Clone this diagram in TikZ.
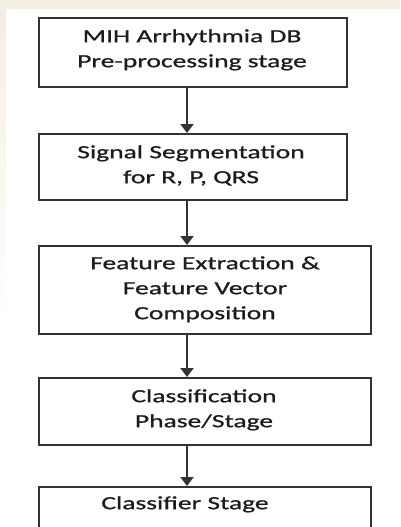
\documentclass[tikz,border=0pt]{standalone}
\usepackage{fontspec}
\setmainfont{Carlito}[FakeStretch=1.48, FakeBold=0.8]
\usetikzlibrary{arrows.meta}
\definecolor{paper}{HTML}{F4EDE3}
\definecolor{edge}{HTML}{333333}
\definecolor{ink}{HTML}{1C1C1C}
\tikzset{
  stage/.style={draw=edge, line width=2pt, rectangle, inner sep=0pt},
  caption/.style={anchor=north, inner sep=0pt, align=center, text=ink,
    font=\fontsize{18.6}{25}\selectfont},
  flow/.style={draw=edge, line width=2pt,
    -{Triangle[width=13pt,length=9pt]}, shorten >=0pt},
}
\begin{document}
\begin{tikzpicture}[x=1pt, y=-1pt]
  \useasboundingbox (0,0) rectangle (400,527);
  \begin{scope}
    \clip (0,0) rectangle (400,527);
    % page backdrop
    \fill[paper] (0,0) rectangle (400,9);
    \shade[top color=paper, bottom color=white] (0,9) rectangle (6,320);
    \fill[white] (6,9) rectangle (400,527);

    % stage boxes
    \node[stage, minimum width=308pt, minimum height=69pt] (b1) at (193,52.5) {};
    \node[stage, minimum width=308pt, minimum height=66pt] (b2) at (193,167) {};
    \node[stage, minimum width=332pt, minimum height=88pt] (b3) at (205,290) {};
    \node[stage, minimum width=332pt, minimum height=67pt] (b4) at (205,411.5) {};
    \node[stage, minimum width=332pt, minimum height=70pt] (b5) at (205,522) {};

    % captions
    \node[caption] (t1) at (192,24.5) {\strut MIH Arrhythmia DB\\Pre-processing stage};
    \node[caption] (t2) at (191,140.5) {\strut Signal Segmentation\\for R, P, QRS};
    \node[caption] (t3) at (205,251.5) {\strut Feature Extraction \&\\Feature Vector\\Composition};
    \node[caption] (t4) at (204,384.5) {\strut Classification\\Phase/Stage};
    \node[caption] (t5) at (185,491.5) {\strut Classifier Stage};

    % connectors
    \coordinate (ax) at (187,0);
    \draw[flow] (b1.south -| ax) -- (b2.north -| ax);
    \draw[flow] (b2.south -| ax) -- (b3.north -| ax);
    \draw[flow] (b3.south -| ax) -- (b4.north -| ax);
    \draw[flow] (b4.south -| ax) -- (b5.north -| ax);
  \end{scope}
\end{tikzpicture}
\end{document}
